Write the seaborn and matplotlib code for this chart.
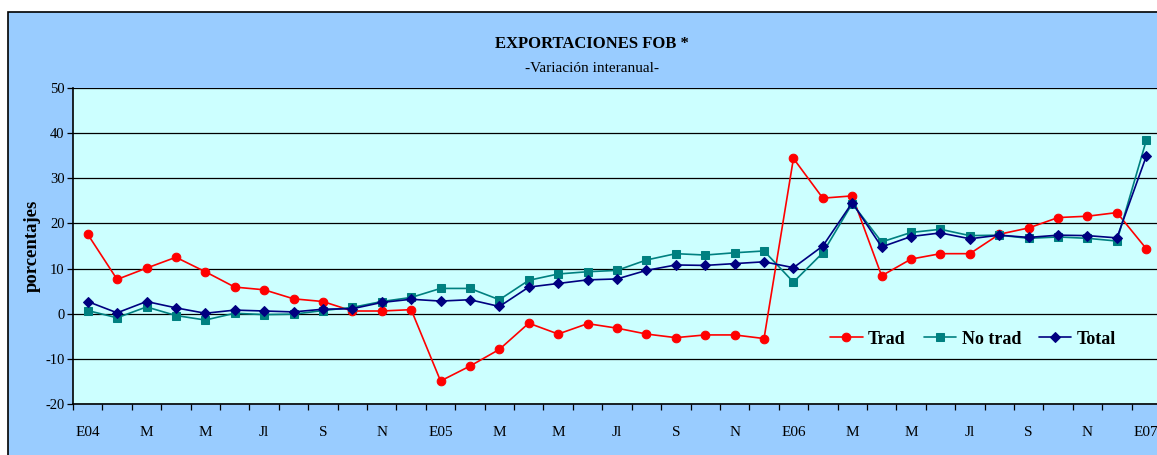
import numpy as np
import pandas as pd
import matplotlib
matplotlib.use("Agg")
import matplotlib.pyplot as plt
import seaborn as sns
from matplotlib.patches import Rectangle

months = ["E04", "F04", "M04", "A04", "M04b", "J04", "Jl04", "A04b", "S04", "O04", "N04", "D04",
          "E05", "F05", "M05", "A05", "M05b", "J05", "Jl05", "A05b", "S05", "O05", "N05", "D05",
          "E06", "F06", "M06", "A06", "M06b", "J06", "Jl06", "A06b", "S06", "O06", "N06", "D06",
          "E07"]
tick_labels = ["E04", "M", "M", "Jl", "S", "N", "E05", "M", "M", "Jl", "S", "N",
               "E06", "M", "M", "Jl", "S", "N", "E07"]

trad = [17.6, 7.6, 10.1, 12.5, 9.3, 5.9, 5.3, 3.3, 2.7, 0.6, 0.6, 0.9,
        -14.9, -11.6, -7.9, -2.1, -4.5, -2.2, -3.2, -4.5, -5.3, -4.7, -4.7, -5.5,
        34.4, 25.6, 26.1, 8.4, 12.1, 13.3, 13.3, 17.6, 19.0, 21.3, 21.6, 22.4,
        14.4]
no_trad = [0.7, -0.9, 1.5, -0.4, -1.4, 0.1, -0.2, -0.1, 0.7, 1.4, 2.7, 3.6,
           5.6, 5.6, 3.1, 7.4, 8.8, 9.3, 9.6, 11.9, 13.3, 13.0, 13.5, 13.9,
           7.0, 13.5, 24.4, 15.9, 18.0, 18.7, 17.3, 17.4, 16.7, 17.0, 16.7, 16.1,
           38.4]
total = [2.7, 0.2, 2.7, 1.3, 0.1, 0.8, 0.6, 0.4, 1.0, 1.1, 2.5, 3.2,
         2.8, 3.1, 1.6, 5.9, 6.7, 7.5, 7.7, 9.6, 10.8, 10.7, 11.1, 11.5,
         10.2, 15.0, 24.6, 14.8, 17.1, 17.9, 16.6, 17.4, 16.9, 17.4, 17.3, 16.8,
         34.9]

sns.set_theme(style="white")
plt.rcParams['font.family'] = ['Liberation Serif', 'DejaVu Serif']
plt.rcParams['axes.unicode_minus'] = False
for k in ["text.color", "axes.labelcolor", "xtick.color", "ytick.color"]:
    plt.rcParams[k] = "black"

W, H = 1157, 455
fig = plt.figure(figsize=(W / 100, H / 100), dpi=100, facecolor="white")

# chart area frame
fig.patches.append(Rectangle((8 / W, -0.1), 1.2, (H - 12) / H + 0.1,
                             transform=fig.transFigure, facecolor="#99CCFF",
                             edgecolor="black", linewidth=1.2, zorder=-5))

ax = fig.add_axes([73 / W, (H - 404) / H, (1161 - 73) / W, (404 - 88) / H])
ax.set_zorder(2)
ax.set_facecolor("#CCFFFF")

idx = np.arange(len(months))
df = pd.DataFrame({"idx": idx, "Trad": trad, "No trad": no_trad, "Total": total})

series = [("Trad", "#FF0000", "o", 6.2), ("No trad", "#008080", "s", 5.6), ("Total", "#000080", "D", 4.8)]
for name, col, mk, ms in series:
    sns.lineplot(data=df, x="idx", y=name, ax=ax, color=col, marker=mk, markersize=ms,
                 markeredgecolor=col, linewidth=1.2, label=name, zorder=3)

ax.set_xlim(-0.5, len(months) - 0.5)
ax.set_ylim(-20, 50)
ax.set_yticks(np.arange(-20, 51, 10))
ax.yaxis.grid(True, color="black", linewidth=0.9)
ax.set_axisbelow(True)
ax.set_xticks(idx[::2])
ax.set_xticklabels(tick_labels, fontsize=11)
ax.set_xticks(np.arange(-0.5, len(months), 1), minor=True)
ax.tick_params(axis="x", which="major", length=0, pad=16)
ax.tick_params(axis="x", which="minor", length=4, width=0.9, color="black", direction="out", bottom=True)
ax.tick_params(axis="y", length=4, width=0.9, color="black", direction="out", left=True, labelsize=10.5, pad=2)
ax.set_xlabel("")
ax.set_ylabel("")
for s in ["top", "right"]:
    ax.spines[s].set_visible(False)
for s in ["left", "bottom"]:
    ax.spines[s].set_color("black")
    ax.spines[s].set_linewidth(1.2)

leg = ax.legend(loc="center left", bbox_to_anchor=((821 - 73) / (1161 - 73), (404 - 339) / (404 - 88)),
                ncol=3, frameon=False, prop={"weight": "bold", "size": 13},
                handlelength=1.8, handletextpad=0.3, columnspacing=1.0, borderpad=0)

fig.text(592 / W, (H - 44) / H, "EXPORTACIONES FOB *", ha="center", va="center",
         fontsize=12, fontweight="bold")
fig.text(592 / W, (H - 68) / H, "-Variación interanual-", ha="center", va="center", fontsize=11)
fig.text(32 / W, (H - 246) / H, "porcentajes", ha="center", va="center", rotation=90,
         fontsize=13.5, fontweight="bold")

fig.savefig("out.png", dpi=100, facecolor="white")
